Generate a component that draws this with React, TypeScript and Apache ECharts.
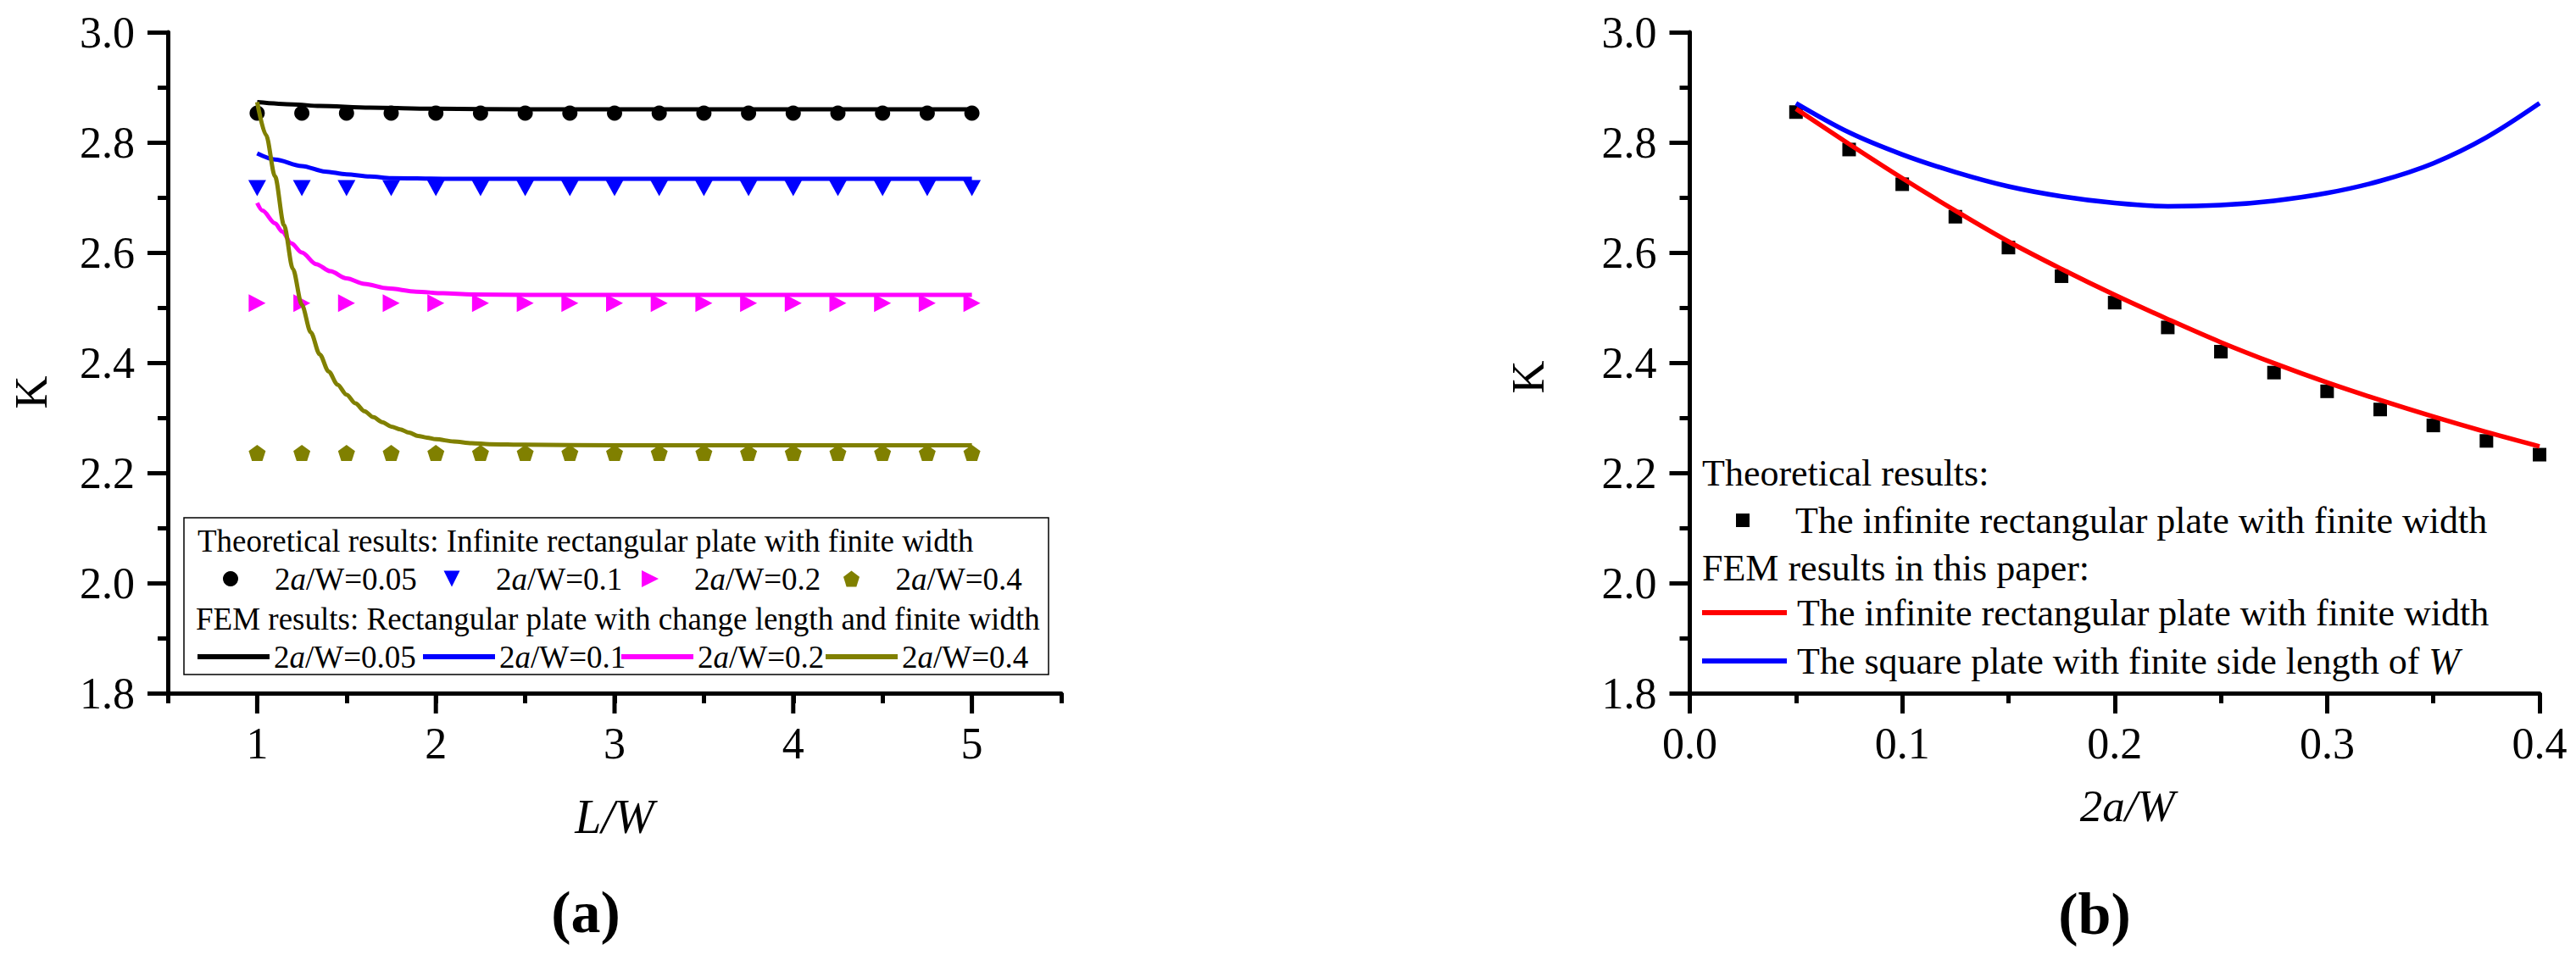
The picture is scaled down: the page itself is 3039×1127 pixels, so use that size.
import React, { useEffect, useRef } from 'react';
import * as echarts from 'echarts';

const FONT = 'Liberation Serif, Times New Roman, serif';

// ---------- Panel (a): K vs L/W ----------
const lwAxisLabels = [1, 2, 3, 4, 5];
const lwTheory = [1, 1.25, 1.5, 1.75, 2, 2.25, 2.5, 2.75, 3, 3.25, 3.5, 3.75, 4, 4.25, 4.5, 4.75, 5];
const kTheory005 = [2.853, 2.853, 2.853, 2.853, 2.853, 2.853, 2.853, 2.853, 2.853, 2.853, 2.853, 2.853, 2.853, 2.853, 2.853, 2.853, 2.853];
const kTheory01 = [2.717, 2.717, 2.717, 2.717, 2.717, 2.717, 2.717, 2.717, 2.717, 2.717, 2.717, 2.717, 2.717, 2.717, 2.717, 2.717, 2.717];
const kTheory02 = [2.508, 2.508, 2.508, 2.508, 2.508, 2.508, 2.508, 2.508, 2.508, 2.508, 2.508, 2.508, 2.508, 2.508, 2.508, 2.508, 2.508];
const kTheory04 = [2.236, 2.236, 2.236, 2.236, 2.236, 2.236, 2.236, 2.236, 2.236, 2.236, 2.236, 2.236, 2.236, 2.236, 2.236, 2.236, 2.236];

const lwFem005 = [1, 1.2, 1.35, 1.63, 2, 2.5, 3, 3.5, 4, 4.5, 5];
const kFem005 = [2.873, 2.869, 2.866, 2.863, 2.861, 2.860, 2.860, 2.860, 2.860, 2.860, 2.860];
const lwFem01 = [1, 1.1, 1.25, 1.38, 1.5, 1.63, 1.75, 2.04, 2.5, 3, 3.5, 4, 4.5, 5];
const kFem01 = [2.780, 2.769, 2.757, 2.747, 2.742, 2.738, 2.735, 2.734, 2.734, 2.734, 2.734, 2.734, 2.734, 2.734];
const lwFem02 = [1, 1.03, 1.1, 1.14, 1.19, 1.25, 1.33, 1.41, 1.5, 1.6, 1.73, 1.89, 2.04, 2.2, 2.5, 3, 3.5, 4, 4.5, 5];
const kFem02 = [2.690, 2.676, 2.653, 2.638, 2.617, 2.600, 2.579, 2.566, 2.553, 2.543, 2.535, 2.529, 2.526, 2.524, 2.523, 2.523, 2.523, 2.523, 2.523, 2.523];
const lwFem04 = [1, 1.05, 1.1, 1.15, 1.2, 1.25, 1.3, 1.35, 1.4, 1.45, 1.5, 1.55, 1.6, 1.65, 1.7, 1.75, 1.8, 1.85, 1.9, 1.95, 2, 2.1, 2.2, 2.3, 2.5, 3, 3.5, 4, 4.5, 5];
const kFem04 = [2.873, 2.813, 2.738, 2.650, 2.570, 2.505, 2.455, 2.415, 2.384, 2.360, 2.342, 2.326, 2.312, 2.301, 2.292, 2.284, 2.279, 2.273, 2.267, 2.264, 2.261, 2.257, 2.254, 2.252, 2.251, 2.250, 2.250, 2.250, 2.250, 2.250];

// ---------- Panel (b): K vs 2a/W ----------
const awTheory = [0.05, 0.075, 0.1, 0.125, 0.15, 0.175, 0.2, 0.225, 0.25, 0.275, 0.3, 0.325, 0.35, 0.375, 0.4];
const kTheoryB = [2.855, 2.787, 2.724, 2.665, 2.609, 2.557, 2.509, 2.464, 2.420, 2.382, 2.348, 2.315, 2.286, 2.258, 2.233];
const awFem = [0.05, 0.075, 0.1, 0.125, 0.15, 0.175, 0.2, 0.225, 0.25, 0.275, 0.3, 0.325, 0.35, 0.375, 0.4];
const kFemInfinite = [2.861, 2.797, 2.735, 2.676, 2.620, 2.570, 2.523, 2.479, 2.437, 2.399, 2.364, 2.332, 2.302, 2.274, 2.248];
const kFemSquare = [2.871, 2.818, 2.778, 2.746, 2.720, 2.702, 2.690, 2.684, 2.686, 2.694, 2.708, 2.730, 2.762, 2.809, 2.871];

const kTicks = { min: 1.8, max: 3.0, interval: 0.2 };

const PENTAGON = 'path://M50,0 L100,38 L81,100 L19,100 L0,38 Z';
const TRI_DOWN = 'path://M0,0 L100,0 L50,100 Z';
const TRI_RIGHT = 'path://M0,0 L100,50 L0,100 Z';

const zip = (xs: number[], ys: number[]) => xs.map((x, i) => [x, ys[i]]);

const theoryA = [
  { name: 'Theory 2a/W=0.05', ys: kTheory005, symbol: 'circle', size: [18, 18], color: '#000000', legendX: 272 },
  { name: 'Theory 2a/W=0.1', ys: kTheory01, symbol: TRI_DOWN, size: [21, 19], color: '#0000FF', legendX: 534 },
  { name: 'Theory 2a/W=0.2', ys: kTheory02, symbol: TRI_RIGHT, size: [20, 21], color: '#FF00FF', legendX: 767 },
  { name: 'Theory 2a/W=0.4', ys: kTheory04, symbol: PENTAGON, size: [20, 19], color: '#808000', legendX: 1005 },
];
const femA = [
  { name: 'FEM 2a/W=0.05', xs: lwFem005, ys: kFem005, color: '#000000', legendX: 233 },
  { name: 'FEM 2a/W=0.1', xs: lwFem01, ys: kFem01, color: '#0000FF', legendX: 499 },
  { name: 'FEM 2a/W=0.2', xs: lwFem02, ys: kFem02, color: '#FF00FF', legendX: 733 },
  { name: 'FEM 2a/W=0.4', xs: lwFem04, ys: kFem04, color: '#808000', legendX: 974 },
];

const NAME_B_THEORY = 'Theory: The infinite rectangular plate with finite width';
const NAME_B_INF = 'FEM: The infinite rectangular plate with finite width';
const NAME_B_SQ = 'FEM: The square plate with finite side length of W';

const axisLineStyle = { lineStyle: { color: '#000', width: 5 } };

function buildOption(): any {
  const labelStyle = { fontFamily: FONT, fontSize: 52, color: '#000' };
  const yAxisBase = (grid: number, nameGap: number, shift: number) => ({
    type: 'value',
    gridIndex: grid,
    min: kTicks.min,
    max: kTicks.max,
    interval: kTicks.interval,
    name: 'K',
    nameLocation: 'middle',
    nameGap,
    nameTextStyle: { fontFamily: FONT, fontSize: 54, color: '#000', padding: [0, shift, 0, 0] },
    axisLine: { show: true, ...axisLineStyle },
    axisTick: { show: true, inside: false, length: 24, lineStyle: { color: '#000', width: 5 } },
    minorTick: { show: true, splitNumber: 2, length: 12, lineStyle: { color: '#000', width: 5 } },
    axisLabel: { ...labelStyle, margin: 39, formatter: (v: number) => v.toFixed(1) },
    splitLine: { show: false },
    minorSplitLine: { show: false },
  });

  const legendText = (size: number, lh: number, padLeft: number) => ({
    fontFamily: FONT,
    fontSize: size,
    color: '#000',
    lineHeight: lh,
    padding: [0, 0, 0, padLeft],
    rich: {
      i: { fontFamily: FONT, fontSize: size, fontStyle: 'italic', color: '#000', lineHeight: lh },
      n: { fontFamily: FONT, fontSize: size, color: '#000', lineHeight: lh },
    },
  });
  const fmtA = (name: string) => {
    const s = name.replace(/^\S+ /, '');
    return '{n|2}{i|a}{n|' + s.slice(2) + '}';
  };
  const fmtB = (name: string) => {
    const s = name.replace(/^[^:]+: /, '');
    if (s.endsWith(' W')) return '{n|' + s.slice(0, -1) + '}{i|W}';
    return '{n|' + s + '}';
  };

  const series: any[] = [];
  theoryA.forEach((t) => {
    series.push({
      type: 'scatter',
      name: t.name,
      xAxisIndex: 0,
      yAxisIndex: 0,
      data: zip(lwTheory, t.ys),
      symbol: t.symbol,
      symbolSize: t.size,
      itemStyle: { color: t.color, opacity: 1 },
      z: 2,
    });
  });
  femA.forEach((f) => {
    series.push({
      type: 'line',
      name: f.name,
      xAxisIndex: 0,
      yAxisIndex: 0,
      data: zip(f.xs, f.ys),
      smooth: 0.3,
      smoothMonotone: 'x',
      symbol: 'none',
      showSymbol: false,
      lineStyle: { color: f.color, width: 5 },
      itemStyle: { color: f.color },
      z: 3,
    });
  });
  // long (major) tick marks of the L/W axis at the labelled values
  series.push({
    type: 'custom',
    name: 'major ticks',
    xAxisIndex: 0,
    yAxisIndex: 0,
    clip: false,
    silent: true,
    z: 6,
    data: lwAxisLabels.map((v) => [v, kTicks.min]),
    renderItem: (_p: any, api: any) => {
      const pt = api.coord([api.value(0), api.value(1)]);
      return {
        type: 'line',
        shape: { x1: pt[0], y1: pt[1], x2: pt[0], y2: pt[1] + 24 },
        style: { stroke: '#000', lineWidth: 5 },
      };
    },
  });
  series.push({
    type: 'scatter',
    name: NAME_B_THEORY,
    xAxisIndex: 1,
    yAxisIndex: 1,
    data: zip(awTheory, kTheoryB),
    symbol: 'rect',
    symbolSize: 16,
    itemStyle: { color: '#000', opacity: 1 },
    z: 2,
  });
  series.push({
    type: 'line',
    name: NAME_B_INF,
    xAxisIndex: 1,
    yAxisIndex: 1,
    data: zip(awFem, kFemInfinite),
    smooth: 0.35,
    symbol: 'none',
    showSymbol: false,
    lineStyle: { color: '#FF0000', width: 5.5 },
    itemStyle: { color: '#FF0000' },
    z: 3,
  });
  series.push({
    type: 'line',
    name: NAME_B_SQ,
    xAxisIndex: 1,
    yAxisIndex: 1,
    data: zip(awFem, kFemSquare),
    smooth: 0.35,
    symbol: 'none',
    showSymbol: false,
    lineStyle: { color: '#0000FF', width: 5.5 },
    itemStyle: { color: '#0000FF' },
    z: 4,
  });

  const legends: any[] = [];
  theoryA.forEach((t) => {
    legends.push({
      left: t.legendX - t.size[0] / 2,
      top: 663,
      padding: 0,
      itemWidth: t.size[0],
      itemHeight: t.size[1],
      selectedMode: false,
      data: [t.name],
      formatter: fmtA,
      textStyle: legendText(37, 40, 52 - t.size[0] / 2 - 5),
    });
  });
  femA.forEach((f) => {
    legends.push({
      left: f.legendX,
      top: 755,
      padding: 0,
      itemWidth: 85,
      itemHeight: 6,
      selectedMode: false,
      data: [{ name: f.name, icon: 'rect' }],
      formatter: fmtA,
      textStyle: legendText(37, 40, 0),
    });
  });
  legends.push({
    left: 2048,
    top: 591,
    padding: 0,
    itemWidth: 16,
    itemHeight: 16,
    selectedMode: false,
    data: [{ name: NAME_B_THEORY, icon: 'rect' }],
    formatter: fmtB,
    textStyle: legendText(44, 46, 49),
  });
  [NAME_B_INF, NAME_B_SQ].forEach((n, i) => {
    legends.push({
      left: 2008,
      top: i === 0 ? 700 : 757,
      padding: 0,
      itemWidth: 100,
      itemHeight: 6,
      selectedMode: false,
      data: [{ name: n, icon: 'rect' }],
      formatter: fmtB,
      textStyle: legendText(44, 46, 7),
    });
  });

  const headerStyle = (size: number) => ({ fontFamily: FONT, fontSize: size, fill: '#000', align: 'left', verticalAlign: 'middle' });

  return {
    animation: false,
    backgroundColor: '#ffffff',
    grid: [
      { left: 198, top: 38, width: 1054, height: 780, outerBoundsMode: 'none' },
      { left: 1993.5, top: 38, width: 1002.5, height: 780, outerBoundsMode: 'none' },
    ],
    xAxis: [
      {
        type: 'value',
        gridIndex: 0,
        position: 'bottom',
        min: 0.5,
        max: 5.5,
        interval: 0.5,
        name: 'L/W',
        nameLocation: 'middle',
        nameGap: 118,
        nameTextStyle: { fontFamily: FONT, fontSize: 56, fontStyle: 'italic', color: '#000' },
        axisLine: { show: true, onZero: false, ...axisLineStyle },
        axisTick: { show: true, inside: false, length: 12, lineStyle: { color: '#000', width: 5 } },
        axisLabel: {
          ...labelStyle,
          margin: 33,
          formatter: (v: number) => (lwAxisLabels.indexOf(v) >= 0 ? String(v) : ''),
        },
        splitLine: { show: false },
      },
      {
        type: 'value',
        gridIndex: 1,
        position: 'bottom',
        min: 0,
        max: 0.4,
        interval: 0.1,
        name: '2a/W',
        nameLocation: 'middle',
        nameGap: 106,
        nameTextStyle: { fontFamily: FONT, fontSize: 53, fontStyle: 'italic', color: '#000', padding: [0, 0, 0, 30] },
        axisLine: { show: true, onZero: false, ...axisLineStyle },
        axisTick: { show: true, inside: false, length: 24, lineStyle: { color: '#000', width: 5 } },
        minorTick: { show: true, splitNumber: 2, length: 12, lineStyle: { color: '#000', width: 5 } },
        axisLabel: { ...labelStyle, margin: 33, formatter: (v: number) => v.toFixed(1) },
        splitLine: { show: false },
        minorSplitLine: { show: false },
      },
    ],
    yAxis: [yAxisBase(0, 134, 70), yAxisBase(1, 164, 34)],
    legend: legends,
    graphic: [
      {
        type: 'rect',
        shape: { x: 217, y: 611, width: 1020, height: 185 },
        style: { fill: 'none', stroke: '#000', lineWidth: 1.5 },
        z: 10,
      },
      {
        type: 'text',
        x: 233,
        y: 638,
        style: { text: 'Theoretical results: Infinite rectangular plate with finite width', ...headerStyle(37) },
        z: 10,
      },
      {
        type: 'text',
        x: 231,
        y: 730,
        style: { text: 'FEM results: Rectangular plate with change length and finite width', ...headerStyle(37) },
        z: 10,
      },
      {
        type: 'text',
        x: 2008,
        y: 558,
        style: { text: 'Theoretical results:', ...headerStyle(44) },
        z: 10,
      },
      {
        type: 'text',
        x: 2008,
        y: 670,
        style: { text: 'FEM results in this paper:', ...headerStyle(44) },
        z: 10,
      },
      {
        type: 'text',
        x: 691,
        y: 1076,
        style: { text: '(a)', fontFamily: FONT, fontSize: 70, fontWeight: 'bold', fill: '#000', align: 'center', verticalAlign: 'middle' },
      },
      {
        type: 'text',
        x: 2471,
        y: 1078,
        style: { text: '(b)', fontFamily: FONT, fontSize: 70, fontWeight: 'bold', fill: '#000', align: 'center', verticalAlign: 'middle' },
      },
    ],
    series,
  };
}

export default function App() {
  const ref = useRef<HTMLDivElement>(null);
  useEffect(() => {
    document.body.style.margin = '0';
    document.body.style.overflow = 'hidden';
    if (!ref.current) return;
    const chart = echarts.init(ref.current, undefined, { renderer: 'svg' });
    chart.setOption(buildOption());
    return () => chart.dispose();
  }, []);
  return <div ref={ref} style={{ width: 3039, height: 1127, background: '#fff' }} />;
}
